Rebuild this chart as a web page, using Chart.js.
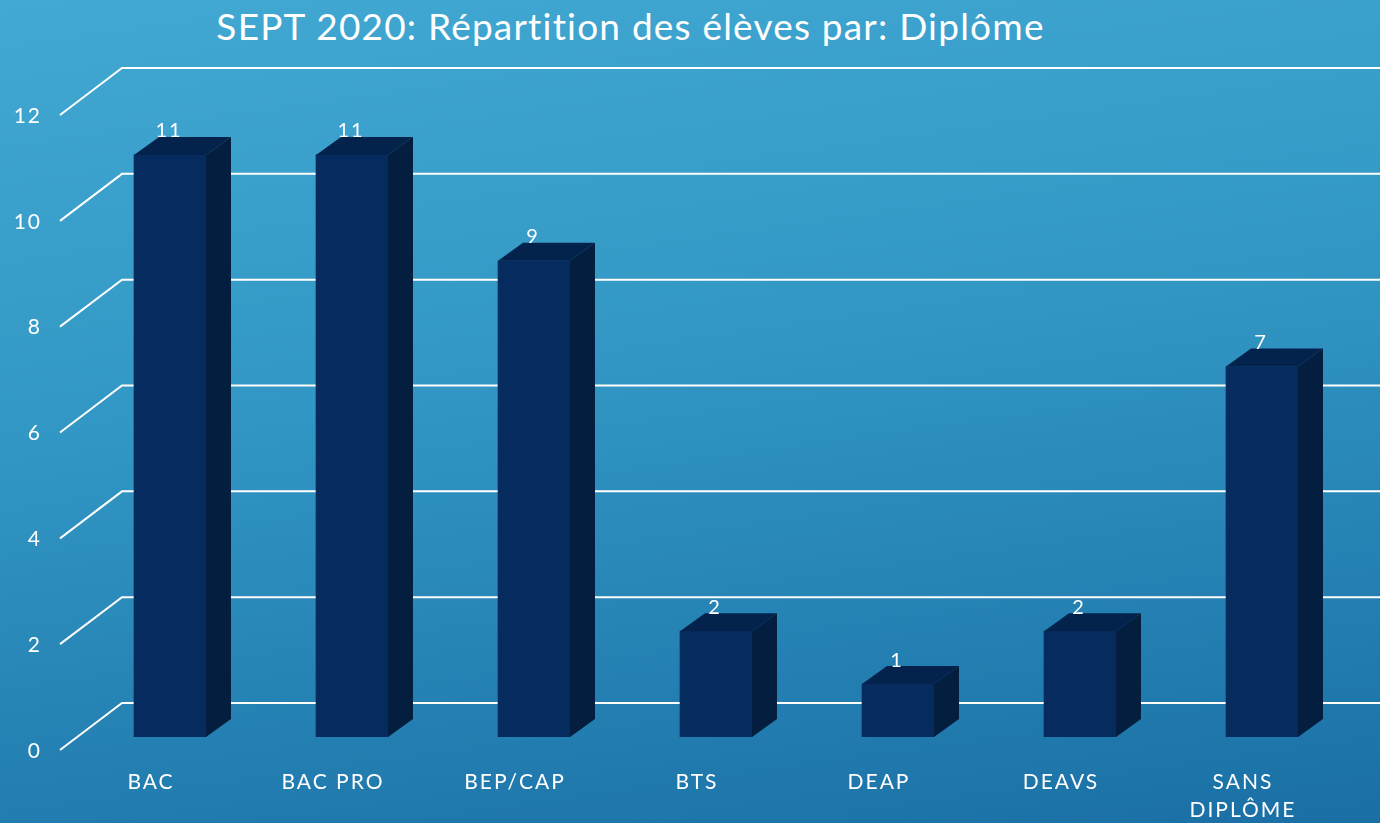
<!DOCTYPE html>
<html lang="fr">
<head>
<meta charset="utf-8">
<title>SEPT 2020: Répartition des élèves par: Diplôme</title>
<script src="https://cdn.jsdelivr.net/npm/chart.js@4"></script>
<style>
  html, body { margin: 0; padding: 0; }
  body {
    width: 1380px;
    height: 823px;
    overflow: hidden;
    position: relative;
    background: linear-gradient(172deg, #42a9d3 0%, #3196c3 45%, #1a6fa5 100%);
    font-family: 'Lato', 'Open Sans', sans-serif;
  }
  #title {
    position: absolute;
    left: 0;
    top: 3px;
    width: 1261px;
    text-align: center;
    color: #fff;
    font-size: 37px;
    font-weight: 400;
    letter-spacing: 1.2px;
  }
  #chart { position: absolute; left: 0; top: 0; }
</style>
</head>
<body>
<div id="title">SEPT 2020: Répartition des élèves par: Diplôme</div>
<canvas id="chart" width="1380" height="823"></canvas>
<script>
// Chart data
const categories = ['BAC', 'BAC PRO', 'BEP/CAP', 'BTS', 'DEAP', 'DEAVS', ['SANS', 'DIPLÔME']];
const studentCounts = [11, 11, 9, 2, 1, 2, 7];
const yTicks = [0, 2, 4, 6, 8, 10, 12];

// Colors
const colors = {
  front: '#062c5f',
  top: '#04234c',
  side: '#031e3e',
  grid: '#ffffff',
  text: '#ffffff'
};

// 3D depth of bars
const barDepth = { dx: 25, dy: -18 };

// Wider letter spacing, closer to the original font
const spacingPlugin = {
  id: 'spacing',
  beforeDraw(chart) {
    chart.ctx.letterSpacing = '2px';
  }
};

// Grid lines drawn as a 3D wall (side diagonal + back wall)
const wallGridPlugin = {
  id: 'wallGrid',
  beforeDatasetsDraw(chart) {
    const ctx = chart.ctx;
    const yScale = chart.scales.y;
    ctx.save();
    ctx.strokeStyle = colors.grid;
    ctx.lineWidth = 2;
    yTicks.forEach(v => {
      const y = yScale.getPixelForValue(v);
      ctx.beginPath();
      ctx.moveTo(60, y + 13);
      ctx.lineTo(122, y - 34);
      ctx.lineTo(chart.width, y - 34);
      ctx.stroke();
    });
    ctx.restore();
  }
};

// Top and side faces of each bar, plus value labels
const bar3dPlugin = {
  id: 'bar3d',
  afterDatasetsDraw(chart) {
    const ctx = chart.ctx;
    const meta = chart.getDatasetMeta(0);
    ctx.save();
    meta.data.forEach((bar, i) => {
      const left = bar.x - bar.width / 2;
      const right = bar.x + bar.width / 2;
      const top = bar.y;
      const base = bar.base;

      // top face
      ctx.fillStyle = colors.top;
      ctx.beginPath();
      ctx.moveTo(left, top);
      ctx.lineTo(left + barDepth.dx, top + barDepth.dy);
      ctx.lineTo(right + barDepth.dx, top + barDepth.dy);
      ctx.lineTo(right, top);
      ctx.closePath();
      ctx.fill();

      // side face
      ctx.fillStyle = colors.side;
      ctx.beginPath();
      ctx.moveTo(right, top);
      ctx.lineTo(right + barDepth.dx, top + barDepth.dy);
      ctx.lineTo(right + barDepth.dx, base + barDepth.dy);
      ctx.lineTo(right, base);
      ctx.closePath();
      ctx.fill();

      // value label
      ctx.fillStyle = colors.text;
      ctx.font = '20px Lato, "Open Sans", sans-serif';
      ctx.textAlign = 'center';
      ctx.textBaseline = 'middle';
      ctx.fillText(String(studentCounts[i]), bar.x - 1, top - 24);
    });
    ctx.restore();
  }
};

const ctx = document.getElementById('chart').getContext('2d');
const chart = new Chart(ctx, {
  type: 'bar',
  data: {
    labels: categories,
    datasets: [{
      label: 'Élèves',
      data: studentCounts,
      backgroundColor: colors.front,
      borderWidth: 0,
      barThickness: 72
    }]
  },
  options: {
    responsive: false,
    animation: false,
    layout: {
      padding: { left: 0, right: 27, top: 102, bottom: 0 }
    },
    scales: {
      x: {
        grid: { display: false },
        border: { display: false },
        ticks: {
          color: colors.text,
          font: { family: 'Lato', size: 21, lineHeight: 1.3 },
          labelOffset: -19,
          padding: 24,
          maxRotation: 0,
          autoSkip: false
        },
        afterFit(scale) { scale.height = 86; }
      },
      y: {
        min: 0,
        max: 12,
        grid: { display: false },
        border: { display: false },
        ticks: {
          stepSize: 2,
          color: colors.text,
          font: { family: 'Lato', size: 21 },
          labelOffset: 14,
          padding: 29
        },
        afterFit(scale) { scale.width = 79; }
      }
    },
    plugins: {
      legend: { display: false },
      tooltip: { enabled: false },
      title: { display: false }
    }
  },
  plugins: [spacingPlugin, wallGridPlugin, bar3dPlugin]
});
</script>
</body>
</html>
